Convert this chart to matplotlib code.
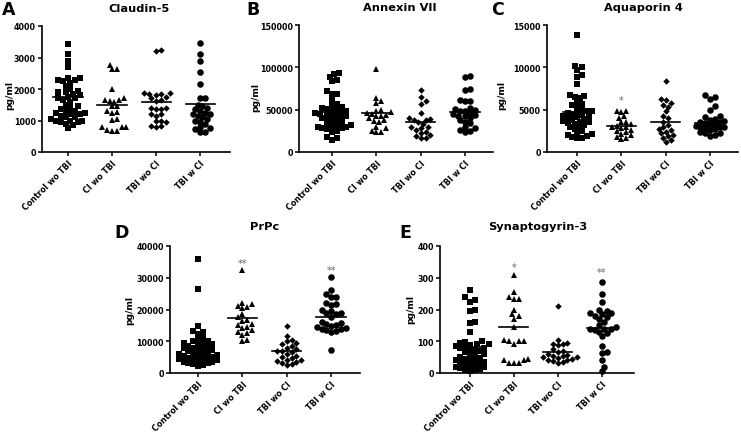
import numpy as np
import matplotlib
matplotlib.use("Agg")
import matplotlib.pyplot as plt

plt.rcParams['font.family'] = ['DejaVu Sans']
plt.rcParams['font.weight'] = 'bold'

categories = ["Control wo TBI", "CI wo TBI", "TBI wo CI", "TBI w CI"]
markers = ["s", "^", "D", "o"]
marker_sizes = [4.3, 4.6, 3.3, 4.7]

# ---------- Panel A: Claudin-5 ----------
claudin_control = [3420, 3100, 2900, 2700, 2350, 2350, 2300, 2300, 2250, 2200, 2100, 2000, 1950,
                   1900, 1900, 1850, 1800, 1750, 1700, 1700, 1650, 1600, 1500, 1450, 1400, 1350,
                   1300, 1300, 1250, 1250, 1200, 1200, 1150, 1100, 1100, 1050, 1000, 1000, 1000,
                   950, 950, 900, 850, 750]
claudin_ci = [2760, 2640, 2620, 2000, 1700, 1660, 1640, 1620, 1600, 1450, 1450, 1300, 1270, 1250,
              1050, 1030, 800, 790, 780, 700, 680, 660]
claudin_tbi = [3250, 3200, 1880, 1880, 1850, 1850, 1800, 1750, 1700, 1650, 1620, 1400, 1400, 1380,
               1350, 1200, 1200, 1150, 980, 980, 950, 830, 820, 800]
claudin_tbici = [3460, 3100, 2880, 2540, 2150, 1720, 1700, 1500, 1450, 1400, 1350, 1300, 1250,
                 1200, 1200, 1150, 1100, 1050, 1000, 950, 900, 780, 750, 720, 650, 620]
claudin_lines = [1750, 1480, 1600, 1520]

# ---------- Panel B: Annexin VII ----------
annexin_control = [93000, 92000, 89000, 85000, 84000, 72000, 69000, 68000, 62000, 57000, 55000,
                   53000, 52000, 51000, 50000, 49000, 48000, 47000, 46000, 45000, 45000, 44000,
                   43000, 42000, 41000, 40000, 39000, 38000, 37000, 35000, 33000, 32000, 31000,
                   30000, 30000, 29000, 28000, 28000, 27000, 25000, 24000, 18000, 17000, 14000]
annexin_ci = [98000, 64000, 60000, 58000, 50000, 49000, 47000, 46000, 45000, 44000, 43000, 42000,
              40000, 38000, 37000, 35000, 30000, 28000, 25000, 24000, 24000]
annexin_tbi = [73000, 65000, 60000, 57000, 46000, 40000, 39000, 38000, 38000, 36000, 33000, 30000,
               29000, 28000, 26000, 24000, 22000, 20000, 19000, 17000, 16000]
annexin_tbici = [90000, 89000, 74000, 73000, 62000, 60000, 60000, 52000, 51000, 50000, 49000,
                 48000, 46000, 45000, 44000, 43000, 42000, 40000, 38000, 36000, 34000, 30000,
                 28000, 26000, 25000, 24000]
annexin_lines = [47000, 45500, 35500, 47000]

# ---------- Panel C: Aquaporin 4 ----------
aqp_control = [13800, 10200, 10000, 9700, 9100, 8900, 8000, 6700, 6600, 6500, 6400, 5900, 5700,
               5500, 5300, 5100, 4900, 4800, 4700, 4600, 4500, 4400, 4300, 4200, 4100, 4000, 3900,
               3800, 3700, 3600, 3500, 3400, 3300, 3200, 3000, 2900, 2700, 2500, 2200, 2100, 2000,
               1900, 1800, 1700, 1600]
aqp_ci = [4900, 4800, 4700, 4200, 4000, 3600, 3500, 3300, 3100, 3000, 2900, 2800, 2600, 2500,
          2400, 2100, 2000, 1800, 1600, 1500]
aqp_tbi = [8400, 6300, 6100, 5800, 5600, 5300, 4800, 4200, 4000, 3600, 3200, 2900, 2700, 2600,
           2400, 2200, 2000, 1900, 1700, 1400, 1200]
aqp_tbici = [6700, 6500, 6300, 5400, 5000, 4300, 4100, 3900, 3800, 3700, 3600, 3500, 3400, 3300,
             3200, 3100, 3000, 3000, 2900, 2800, 2700, 2600, 2400, 2300, 2200, 2000, 1900]
aqp_lines = [4750, 3050, 3600, 3450]

# ---------- Panel D: PrPc ----------
prpc_control = [35800, 26300, 14700, 13200, 12800, 12400, 11000, 10500, 10200, 10000, 9500, 9200,
                9000, 8800, 8500, 8200, 8000, 7800, 7500, 7200, 7000, 6800, 6500, 6300, 6000,
                5800, 5600, 5400, 5200, 5000, 4800, 4600, 4500, 4300, 4100, 4000, 3800, 3600,
                3400, 3200, 3000, 2800, 2500, 2200]
prpc_ci = [32300, 22200, 21800, 21000, 20800, 20500, 18500, 17500, 16800, 16500, 15500, 15000,
           14500, 14200, 13500, 13000, 12500, 12000, 10500, 10000]
prpc_tbi = [14900, 11800, 10300, 10000, 9500, 9000, 8500, 8000, 7500, 7000, 6800, 6500, 6000,
            5500, 5000, 4800, 4200, 4000, 3800, 3500, 3200, 2800, 2600]
prpc_tbici = [30200, 26000, 25000, 24000, 23800, 22000, 21800, 21500, 20000, 19500, 19000, 18800,
              18500, 17500, 16000, 15800, 15500, 15000, 14800, 14500, 14200, 14000, 13800, 13500,
              13200, 13000, 7200]
prpc_lines = [7900, 17200, 7000, 17700]

# ---------- Panel E: Synaptogyrin-3 ----------
syn_control = [262, 238, 230, 225, 200, 195, 160, 158, 128, 100, 98, 95, 92, 90, 88, 85, 82, 80,
               78, 75, 72, 70, 65, 60, 58, 55, 50, 48, 45, 42, 40, 38, 35, 32, 30, 28, 25, 22, 20,
               18, 15, 12, 10, 8, 5]
syn_ci = [310, 255, 240, 232, 232, 200, 185, 178, 170, 145, 105, 102, 100, 100, 90, 45, 40, 32,
          30, 32, 40]
syn_tbi = [212, 105, 95, 92, 90, 88, 75, 70, 65, 60, 58, 55, 52, 50, 50, 48, 45, 42, 40, 38, 35, 32]
syn_tbici = [288, 248, 225, 200, 195, 190, 188, 185, 180, 175, 170, 160, 150, 145, 140, 140, 138,
             135, 130, 125, 115, 85, 65, 62, 40, 20, 5]
syn_lines = [83, 145, 65, 142]

# significance annotations: (category index, y value, text)
prpc_sig = [(1, 34500, "**"), (3, 32300, "**")]
syn_sig = [(1, 335, "*"), (3, 318, "**")]
aqp_sig = [(1, 6200, "*")]

W, H = 741, 435
fig = plt.figure(figsize=(W / 100, H / 100), dpi=100)


def swarm(values, px_per_x, px_per_y, d=4.8, step=2.4):
    vals = np.asarray(values, dtype=float)
    order = np.argsort(vals)
    placed = []
    offs = np.zeros(len(vals))
    for i in order:
        yp = vals[i] * px_per_y
        k = 0
        while True:
            cands = [0.0] if k == 0 else [k * step, -k * step]
            ok_c = None
            for c in cands:
                if all((c - px) ** 2 + (yp - py) ** 2 >= d * d for px, py in placed):
                    ok_c = c
                    break
            if ok_c is not None:
                placed.append((ok_c, yp))
                offs[i] = ok_c / px_per_x
                break
            k += 1
    return offs


def panel(box, xlim, ymax, yticks, groups, lines, title, letter, letter_xy, title_xy,
          ylab_xy, sig=()):
    l, r, t, b = box
    ax = fig.add_axes([l / W, 1 - b / H, (r - l) / W, (b - t) / H])
    ax.set_xlim(*xlim)
    ax.set_ylim(0, ymax)
    px_per_x = (r - l) / (xlim[1] - xlim[0])
    px_per_y = (b - t) / ymax
    for i, vals in enumerate(groups):
        offs = swarm(vals, px_per_x, px_per_y)
        ax.plot(i + offs, vals, linestyle="none", marker=markers[i], ms=marker_sizes[i],
                color="black", markeredgewidth=0, clip_on=False, zorder=3)
        ax.plot([i - 0.33, i + 0.33], [lines[i], lines[i]], color="black", lw=1.2, zorder=4)
    for ci, yv, txt in sig:
        ax.text(ci, yv, txt, ha="center", va="center", fontsize=7, color="#666666",
                fontweight="normal")
    for s in ["top", "right"]:
        ax.spines[s].set_visible(False)
    for s in ["left", "bottom"]:
        ax.spines[s].set_linewidth(1.2)
    ax.set_yticks(yticks)
    ax.set_yticklabels([str(v) for v in yticks], fontsize=5.8, fontweight="bold")
    ax.set_xticks(range(len(categories)))
    ax.set_xticklabels(categories, rotation=45, ha="right", rotation_mode="anchor",
                       fontsize=5.8, fontweight="bold")
    ax.tick_params(axis="both", length=3, width=1.1, pad=1.5)
    fig.text(title_xy[0] / W, 1 - title_xy[1] / H, title, ha="center", va="center",
             fontsize=8.2, fontweight="bold")
    fig.text(letter_xy[0] / W, 1 - letter_xy[1] / H, letter, ha="left", va="center",
             fontsize=12.5, fontweight="bold")
    fig.text(ylab_xy[0] / W, 1 - ylab_xy[1] / H, "pg/ml", ha="center", va="center",
             rotation=90, fontsize=6.6, fontweight="bold")
    return ax


panel((42, 230, 27, 153), (-0.59, 3.68), 4000, [0, 1000, 2000, 3000, 4000],
      [claudin_control, claudin_ci, claudin_tbi, claudin_tbici], claudin_lines,
      "Claudin-5", "A", (2, 10), (139, 9), (10, 95))
panel((299, 493, 26, 153), (-0.745, 3.63), 150000, [0, 50000, 100000, 150000],
      [annexin_control, annexin_ci, annexin_tbi, annexin_tbici], annexin_lines,
      "Annexin VII", "B", (246, 10), (400, 8), (256, 97))
panel((547, 738, 26, 153), (-0.68, 3.63), 15000, [0, 5000, 10000, 15000],
      [aqp_control, aqp_ci, aqp_tbi, aqp_tbici], aqp_lines,
      "Aquaporin 4", "C", (491, 10), (643, 8), (502, 95), aqp_sig)
panel((170, 360, 247, 374), (-0.63, 3.65), 40000, [0, 10000, 20000, 30000, 40000],
      [prpc_control, prpc_ci, prpc_tbi, prpc_tbici], prpc_lines,
      "PrPc", "D", (114, 233), (265, 227), (130, 311), prpc_sig)
panel((440, 634, 247, 374), (-0.68, 3.73), 400, [0, 100, 200, 300, 400],
      [syn_control, syn_ci, syn_tbi, syn_tbici], syn_lines,
      "Synaptogyrin-3", "E", (399, 233), (538, 227), (411, 310), syn_sig)

fig.savefig("out.png", dpi=100)
